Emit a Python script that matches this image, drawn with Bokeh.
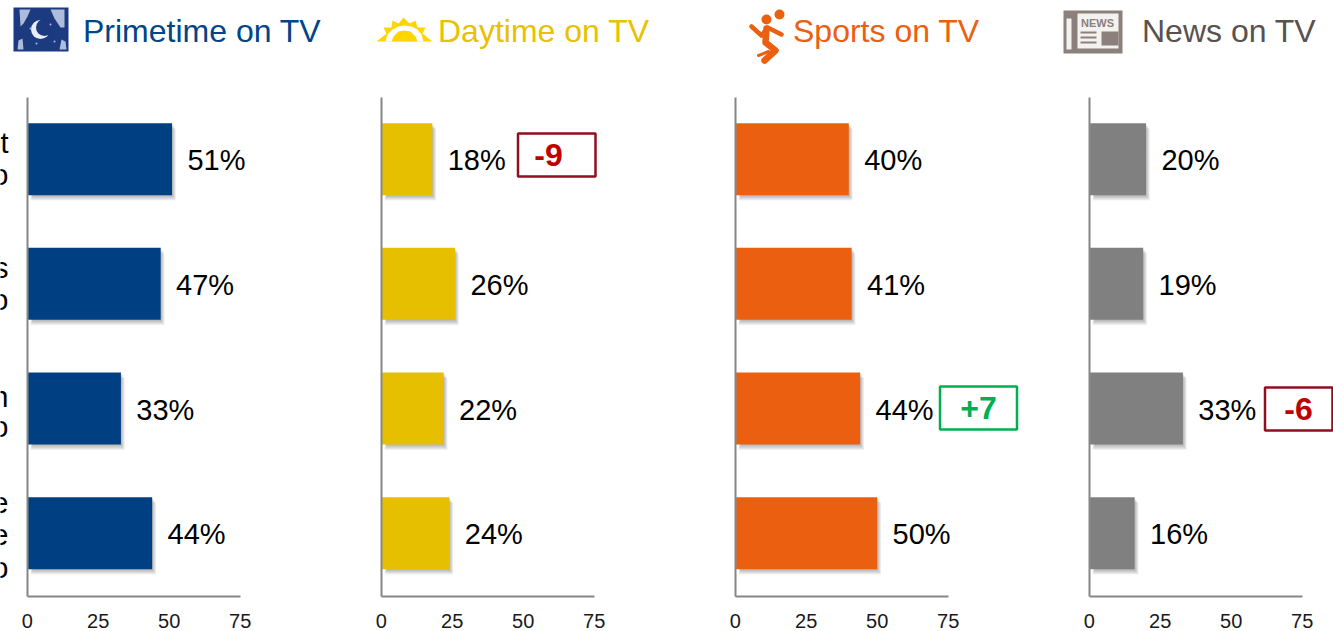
from bokeh.plotting import figure
from bokeh.layouts import row
from bokeh.models import FixedTicker, NumeralTickFormatter
from bokeh.core.properties import value
from bokeh.embed import file_html
from bokeh.resources import INLINE

# ---- data
titles = ["Primetime on TV", "Daytime on TV", "Sports on TV", "News on TV"]
rows = ["r1", "r2", "r3", "r4"]
primetime = [51, 47, 33, 44]
daytime = [18, 26, 22, 24]
sports = [40, 41, 44, 50]
news = [20, 19, 33, 16]
ticks = [0, 25, 50, 75]
badges = [None, ("-9", 0), ("+7", 2), ("-6", 2)]
clipped_labels = [("t", 0, -16), ("o", 0, 16), ("s", 1, -16), ("o", 1, 16),
                  ("n", 2, -12), ("o", 2, 18), ("e", 3, -30), ("e", 3, 2), ("o", 3, 35)]
bar_colors = ["#003F82", "#E6BF00", "#EB6010", "#808080"]
title_colors = ["#004587", "#E8C100", "#EB6010", "#58524F"]
series = [primetime, daytime, sports, news]

# ---- layout constants (pixels of the page)
FONT = value("Liberation Sans")
X0 = [26.7, 380.7, 734.7, 1088.7]
LEFT = [0, 354, 708, 1062]
WIDTH = [354, 354, 354, 271]
H = 631
PX_PER_UNIT = 2.84
ROW_TOP = 158.7
ROW_STEP = 124.67
BAR_PX = 72
AXIS_TOP, AXIS_BOTTOM = 97, 595.5
AXIS_COLOR = "#868686"


def make_panel(i):
    x0 = X0[i]
    fx = lambda px: (px - x0) / PX_PER_UNIT
    fy = lambda py: (py - ROW_TOP) / ROW_STEP
    fxs = lambda seq: [fx(a) for a in seq]
    fys = lambda seq: [fy(a) for a in seq]
    p = figure(width=WIDTH[i], height=H, toolbar_location=None, output_backend="svg",
               x_range=(fx(LEFT[i]), fx(LEFT[i] + WIDTH[i])), y_range=(fy(H), fy(0)),
               min_border=0, min_border_left=0, min_border_right=0, min_border_top=0,
               min_border_bottom=0, outline_line_color=None, background_fill_color="white")
    p.grid.visible = False

    ax = p.xaxis[0]
    ax.fixed_location = fy(AXIS_BOTTOM)
    ax.bounds = (0, 75)
    ax.ticker = FixedTicker(ticks=ticks)
    ax.formatter = NumeralTickFormatter(format="0")
    ax.axis_line_color = AXIS_COLOR
    ax.axis_line_width = 2
    ax.major_tick_line_color = None
    ax.minor_tick_line_color = None
    ax.major_label_text_font = "Liberation Sans"
    ax.major_label_text_font_size = "20px"
    ax.major_label_text_color = "#1a1a1a"
    ax.major_label_standoff = 12

    ay = p.yaxis[0]
    ay.fixed_location = 0
    ay.bounds = (fy(AXIS_TOP), fy(AXIS_BOTTOM))
    ay.ticker = FixedTicker(ticks=[])
    ay.axis_line_color = AXIS_COLOR
    ay.axis_line_width = 2
    ay.major_tick_line_color = None
    ay.minor_tick_line_color = None

    vals = series[i]
    ys = list(range(len(rows)))
    half = BAR_PX / ROW_STEP / 2
    # soft shadow, built from widening faint copies of the bars
    for k in range(1, 7):
        dx = (k * 0.65) / PX_PER_UNIT
        dy = (k * 0.9) / ROW_STEP
        p.quad(left=[1.2 + (6 - k) * 0.15] * 4, right=[v + dx for v in vals],
               top=[y - half + dy for y in ys], bottom=[y + half + dy for y in ys],
               fill_color="#000000", fill_alpha=0.05, line_color=None)
    p.hbar(y=ys, right=vals, left=0.3, height=BAR_PX / ROW_STEP,
           fill_color=bar_colors[i], line_color=None)

    p.text(x=[v + 15.4 / PX_PER_UNIT for v in vals], y=[y + 1.0 / ROW_STEP for y in ys],
           text=[f"{v}%" for v in vals], text_font=FONT, text_font_size="29px",
           text_color="#000000", text_align="left", text_baseline="middle")

    # panel title
    title_x = [82.5, 437.5, 792.5, 1141.5][i]
    p.text(x=[fx(title_x)], y=[fy(30)], text=[titles[i]], text_font=FONT, text_font_size="32px",
           text_color=title_colors[i], text_align="left", text_baseline="middle")

    # change badge
    if badges[i]:
        label, r = badges[i]
        bx0, bx1, by0, by1, tx = {1: (517.5, 595, 133, 176, 548),
                                  2: (939.5, 1016.5, 386, 429, 978),
                                  3: (1264.5, 1332, 387, 430, 1298)}[i]
        color, edge = ("#00B050", "#00B050") if label.startswith("+") else ("#C00000", "#8F0F1F")
        p.quad(left=[fx(bx0)], right=[fx(bx1)], top=[fy(by0)], bottom=[fy(by1)],
               fill_color="white", line_color=edge, line_width=2.5)
        p.text(x=[fx(tx)], y=[fy((by0 + by1) / 2)], text=[label], text_font=FONT,
               text_font_size="32px", text_font_style="bold", text_color=color,
               text_align="center", text_baseline="middle")

    # icons
    if i == 0:
        for t, r, off in clipped_labels:
            p.text(x=[fx(8)], y=[r + off / ROW_STEP], text=[t], text_font=FONT, text_font_size="29px",
                   text_color="#000000", text_align="right", text_baseline="middle")
        navy = "#1B3A80"
        p.quad(left=[fx(13)], right=[fx(68)], top=[fy(7)], bottom=[fy(51)], fill_color=navy,
               line_color=None)
        curtains = [[(19, 9), (24, 9), (30, 9), (27, 16), (23, 23), (20, 26)],
                    [(50, 9), (57, 9), (64, 9), (64, 27), (60, 27), (54, 18)],
                    [(18, 40), (22, 38), (23, 49), (17, 49)],
                    [(61, 39), (65, 41), (66, 49), (59, 49)]]
        p.patches(xs=[fxs([a for a, _ in c]) for c in curtains],
                  ys=[fys([b for _, b in c]) for c in curtains],
                  fill_color="#AEBBDA", line_color=None)
        p.scatter(x=[fx(40)], y=[fy(29)], size=19, marker="circle", fill_color="#E8ECF5", line_color=None)
        p.scatter(x=[fx(44)], y=[fy(27)], size=17, marker="circle", fill_color=navy, line_color=None)
        p.scatter(x=fxs([30, 50, 54, 36]), y=fys([28, 24, 41, 43]), size=2, marker="circle",
                  fill_color="#AEBBDA", line_color=None)
    elif i == 1:
        gold = "#FFD500"
        rays = [(376, 41), (386, 33), (383, 27), (391, 27), (392, 20), (398, 23), (403, 17),
                (409, 23), (415, 20), (417, 27), (425, 27), (422, 33), (432, 41)]
        p.patch(x=fxs([a for a, _ in rays]), y=fys([b for _, b in rays]), fill_color=gold, line_color=None)
        arc = [(385, 41), (387, 34), (392, 29), (398, 26), (404, 25), (411, 26), (417, 29), (421, 34), (423, 41)]
        p.patch(x=fxs([a for a, _ in arc]), y=fys([b for _, b in arc]), fill_color="white", line_color=None)
        dome = [(391, 41), (393, 36), (398, 31), (404, 30), (410, 31), (415, 36), (417, 41)]
        p.patch(x=fxs([a for a, _ in dome]), y=fys([b for _, b in dome]), fill_color=gold, line_color=None)
    elif i == 2:
        o = bar_colors[2]
        p.scatter(x=fxs([779, 766]), y=fys([14, 19]), size=[10, 10], marker="circle", fill_color=o, line_color=None)
        for seg, w in [([(751, 26), (761, 35), (767, 27), (781, 34)], 4.5),
                       ([(766, 28), (765, 42), (775, 50), (764, 60)], 6.5),
                       ([(758, 55), (768, 51)], 3)]:
            p.line(x=fxs([a for a, _ in seg]), y=fys([b for _, b in seg]), line_color=o, line_width=w,
                   line_cap="round", line_join="round")
    else:
        g = "#8B807B"
        p.quad(left=[fx(1063)], right=[fx(1122)], top=[fy(10)], bottom=[fy(53)], fill_color=g, line_color=None)
        p.quad(left=fxs([1066, 1077]), right=fxs([1071, 1118]), top=fys([18, 13]), bottom=fys([49, 48]),
               fill_color="#F4F2F1", line_color=None)
        p.quad(left=[fx(1101)], right=[fx(1118)], top=[fy(31)], bottom=[fy(45)], fill_color=g, line_color=None)
        p.quad(left=fxs([1080, 1080, 1080]), right=fxs([1096, 1096, 1096]), top=fys([31, 36, 41]),
               bottom=fys([33, 38, 43]), fill_color=g, line_color=None)
        p.text(x=[fx(1097)], y=[fy(22)], text=["NEWS"], text_font=FONT, text_font_size="11px",
               text_font_style="bold", text_color=g, text_align="center", text_baseline="middle")
    return p


layout = row(*[make_panel(i) for i in range(4)], spacing=0)
layout.styles = {"position": "absolute", "left": "0px", "top": "0px"}
open("out.html", "w").write(file_html(layout, INLINE))
